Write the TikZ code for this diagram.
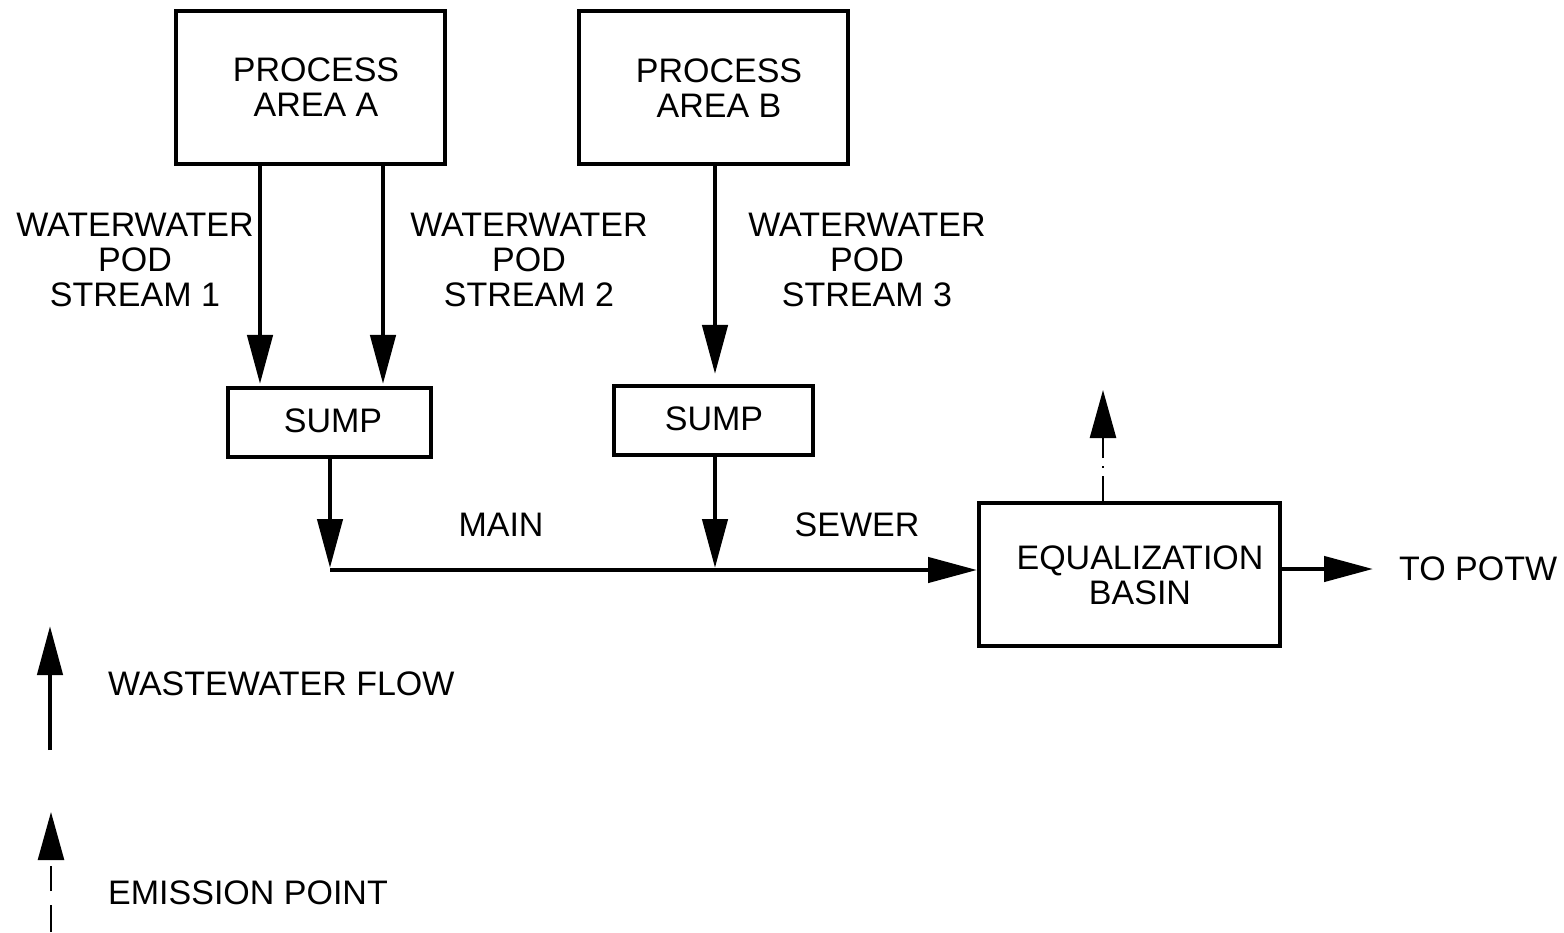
\documentclass[tikz,border=0pt]{standalone}
\usepackage{fontspec}
\setmainfont{Liberation Sans}
\usetikzlibrary{arrows.meta,calc}

\begin{document}
\begin{tikzpicture}[x=1pt,y=-1pt,
  every node/.style={font=\fontsize{34}{35}\selectfont, align=center, inner sep=0pt},
  box/.style={draw, line width=4pt},
  flow/.style={line width=4.5pt, -{Triangle[length=49pt,width=25pt]}},
  emit/.style={line width=2.5pt, -{Triangle[length=48pt,width=26pt]}},
  txt/.style={anchor=center}
]
\useasboundingbox (0,0) rectangle (1564,933);

% process areas
\node[box, minimum width=269pt, minimum height=153pt] (pa) at (310,88) {};
\node[txt] (pat) at (316,87) {PROCESS\\AREA A};
\node[box, minimum width=269pt, minimum height=153pt] (pb) at (713.5,88) {};
\node[txt] (pbt) at (719,88) {PROCESS\\AREA B};

% sumps
\node[box, minimum width=203pt, minimum height=69pt] (sa) at (329.5,422.5) {};
\node[txt] (sat) at (333,421) {SUMP};
\node[box, minimum width=199pt, minimum height=69pt] (sb) at (713.5,420.5) {};
\node[txt] (sbt) at (714,419) {SUMP};

% equalization basin
\node[box, minimum width=301pt, minimum height=143pt] (eq) at (1129.5,574.5) {};
\node[txt] (eqt) at (1140,575) {EQUALIZATION\\BASIN};

% stream labels
\node[txt] (l1) at (135,260) {WATERWATER\\POD\\STREAM 1};
\node[txt] (l2) at (529,260) {WATERWATER\\POD\\STREAM 2};
\node[txt] (l3) at (867,260) {WATERWATER\\POD\\STREAM 3};
\node[txt] (lmain) at (501,525) {MAIN};
\node[txt] (lsewer) at (857,525) {SEWER};
\node[anchor=west] (potw) at (1399,569) {TO POTW};

% connector end points
\coordinate (t1) at (260,384);
\coordinate (t2) at (383,384);
\coordinate (t3) at (715,374);
\coordinate (j1) at (330,570);
\coordinate (j2) at (715,570);
\coordinate (out) at (1373,569);
\coordinate (vent) at (1103,390);

% wastewater flow
\draw[flow] (t1 |- pa.south) -- (t1);
\draw[flow] (t2 |- pa.south) -- (t2);
\draw[flow] (t3 |- pb.south) -- (t3);
\draw[flow] (j1 |- sa.south) -- ($(j1)+(0,-2)$);
\draw[flow] (j2 |- sb.south) -- ($(j2)+(0,-2)$);
\draw[flow] (j1) -- (j1 -| eq.west);
\draw[flow] (out -| eq.east) -- (out);

% emission point
\draw[emit, dash pattern=on 25pt off 8pt on 2pt off 8pt] (vent |- eq.north) -- (vent);

% legend
\coordinate (lga) at (50,750);
\coordinate (lgb) at (50,626);
\coordinate (lgc) at (51,932);
\coordinate (lgd) at (51,812);
\draw[flow] (lga) -- (lgb);
\draw[emit, dash pattern=on 27pt off 14pt on 25pt off 8pt] (lgc) -- (lgd);
\node[anchor=west] (lg1) at (108,684) {WASTEWATER FLOW};
\node[anchor=west] (lg2) at (108,893) {EMISSION POINT};
\end{tikzpicture}
\end{document}
